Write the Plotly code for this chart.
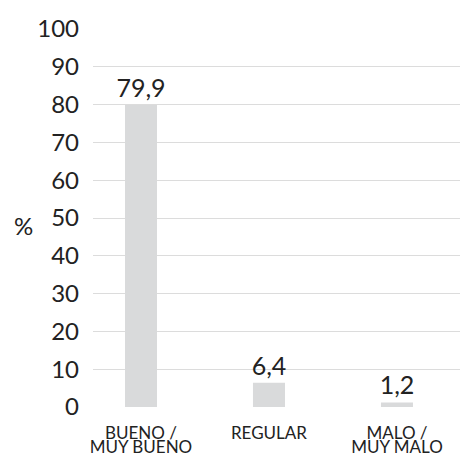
import plotly.graph_objects as go

categories = ["BUENO /<br>MUY BUENO", "REGULAR", "MALO /<br>MUY MALO"]
values = [79.9, 6.4, 1.2]
y_ticks = [0, 10, 20, 30, 40, 50, 60, 70, 80, 90, 100]

labels = [f"{v:.1f}".replace(".", ",") for v in values]
# category labels split in two rows so the line spacing can be kept tight
line1 = [c.split("<br>")[0] for c in categories]
line2 = [c.split("<br>")[1] if "<br>" in c else " " for c in categories]
xpos = list(range(len(categories)))

fig = go.Figure(go.Bar(
    x=xpos, y=values, text=labels, textposition="outside",
    marker=dict(color="#d9dadb", line=dict(width=0)),
    width=0.25, cliponaxis=False, constraintext="none",
    textfont=dict(size=25, color="#222222", family="Lato"),
))
fig.add_trace(go.Scatter(x=xpos, y=values, xaxis="x2", mode="none",
                         hoverinfo="skip", showlegend=False))

tick_font = dict(size=17, color="#222222", family="Lato")
xrange = [-0.375, 2.555]
fig.update_layout(
    xaxis=dict(tickvals=xpos, ticktext=line1, range=xrange,
               showgrid=False, zeroline=False, showline=False, ticks="",
               automargin=False, ticklabelstandoff=14, tickfont=tick_font),
    xaxis2=dict(tickvals=xpos, ticktext=line2, range=xrange, overlaying="x",
                side="bottom", anchor="y",
                showgrid=False, zeroline=False, showline=False, ticks="",
                automargin=False, ticklabelstandoff=28, tickfont=tick_font),
)
fig.update_yaxes(
    tickvals=y_ticks, range=[0, 100], gridcolor="#dcdcdc", gridwidth=1,
    zeroline=False, showline=False, ticks="", ticklabelstandoff=13,
    automargin=False,
    tickfont=dict(size=24, color="#222222", family="Lato"),
)
fig.add_annotation(text="%", xref="paper", yref="paper", x=-0.155, y=0.48,
                   showarrow=False, xanchor="right",
                   font=dict(size=24, color="#222222", family="Lato"))
# page body keeps its default 8px margin, so margins are offset by 8
fig.update_layout(
    width=468, height=455, margin=dict(l=85, r=8, t=21, b=56),
    paper_bgcolor="white", plot_bgcolor="white", showlegend=False,
    font=dict(family="Lato"),
)

fig.write_html("out.html")
